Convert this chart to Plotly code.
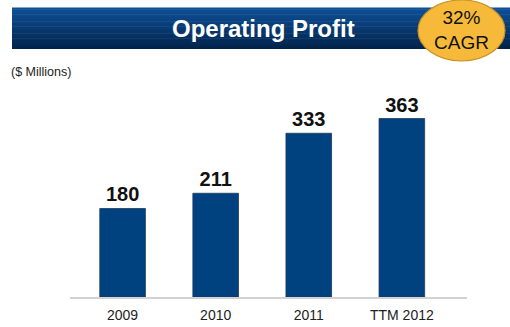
import plotly.graph_objects as go

# Operating profit, $ millions
periods = ["2009", "2010", "2011", "TTM 2012"]
profit = [180, 211, 333, 363]
title_text = "Operating Profit"
unit_text = "($ Millions)"
cagr_text = "32%<br>CAGR"

BAR_BLUE = "#00417f"
FONT = "Liberation Sans, Arial, sans-serif"

fig = go.Figure()
fig.add_trace(go.Bar(
    x=periods, y=profit,
    marker=dict(color=BAR_BLUE, line=dict(color="#1d3b5c", width=0.8)),
    width=0.49,
    text=["<b>%d</b>" % v for v in profit],
    textposition="outside",
    textfont=dict(family=FONT, size=20, color="#111111"),
    cliponaxis=False,
))

shapes = []
# title banner with a vertical blue gradient built from thin strips
y_top, y_bot = 8, 49
n = 24
c0 = (14, 80, 152)
c1 = (2, 36, 76)
for i in range(n):
    t = i / (n - 1)
    col = tuple(int(round(a + (b - a) * t)) for a, b in zip(c0, c1))
    ya = y_top + (y_bot - y_top) * i / n
    yb = y_top + (y_bot - y_top) * (i + 1) / n
    shapes.append(dict(
        type="rect", xref="paper", yref="paper",
        x0=(12 - 70) / 397, x1=1 + 43 / 397,
        y0=1 + (60 - yb) / 237, y1=1 + (60 - ya) / 237 + 0.002,
        fillcolor="rgb(%d,%d,%d)" % col, line=dict(width=0), layer="below",
    ))
# CAGR badge
shapes.append(dict(
    type="circle", xref="paper", yref="paper",
    x0=(418 - 70) / 397, x1=(505 - 70) / 397,
    y0=1 + (60 - 61) / 237, y1=1 + (60 - 0) / 237,
    fillcolor="#f6b93a", line=dict(color="#c99126", width=1.2),
))

fig.update_layout(
    width=510, height=327,
    margin=dict(l=70, r=43, t=60, b=30, autoexpand=False),
    paper_bgcolor="white", plot_bgcolor="white",
    showlegend=False,
    shapes=shapes,
    xaxis=dict(
        range=[-0.565, 3.70], showgrid=False, zeroline=False,
        showline=True, linecolor="#d2d2d2", linewidth=1.5,
        ticks="", ticklabelstandoff=4, automargin=False,
        tickfont=dict(family=FONT, size=14, color="#222222"),
        fixedrange=True,
    ),
    yaxis=dict(range=[0, 482], visible=False, fixedrange=True),
    annotations=[
        dict(text="<b>%s</b>" % title_text, xref="paper", yref="paper",
             x=(263 - 70) / 397, y=1 + (60 - 28.5) / 237,
             xanchor="center", yanchor="middle", showarrow=False,
             font=dict(family=FONT, size=24, color="white")),
        dict(text=cagr_text, xref="paper", yref="paper",
             x=(461 - 70) / 397, y=1 + (60 - 30) / 237,
             xanchor="center", yanchor="middle", showarrow=False,
             font=dict(family=FONT, size=19, color="#111111")),
        dict(text=unit_text, xref="paper", yref="paper",
             x=(9 - 70) / 397, y=1 + (60 - 72) / 237,
             xanchor="left", yanchor="middle", showarrow=False,
             font=dict(family=FONT, size=12.5, color="#222222")),
    ],
)

fig.write_html("out.html")
